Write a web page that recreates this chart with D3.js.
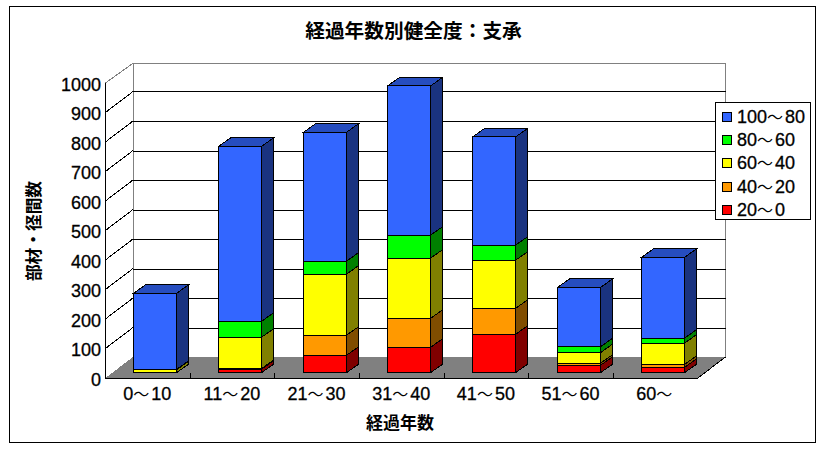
<!DOCTYPE html>
<html><head><meta charset="utf-8">
<script src="https://cdn.jsdelivr.net/npm/d3@7"></script>
<style>html,body{margin:0;padding:0;background:#fff}svg{display:block;shape-rendering:crispEdges}text{fill:#000}.n{stroke:#000;stroke-width:.3}</style>
</head><body><svg id="c" width="826" height="453"></svg>
<script>
const categories=["0～10","11～20","21～30","31～40","41～50","51～60","60～"];
const seriesNames=["20～0","40～20","60～40","80～60","100～80"];
const s20=[0,12,59,86,130,25,18];
const s40=[0,2,68,98,88,7,10];
const s60=[10,106,207,204,163,36,72];
const s80=[1,54,44,78,51,20,17];
const s100=[258,593,437,506,367,201,274];
const yTicks=[0,100,200,300,400,500,600,700,800,900,1000];
const colors=["#ff0000","#ff9900","#ffff00","#00ff00","#3366ff"];
const svg=d3.select("#c");
const FT='"Noto Sans CJK JP",sans-serif', FN='"Liberation Sans",Arial,sans-serif';
const x=d3.scaleBand().domain(categories).range([105,697.5]).paddingInner(0).paddingOuter(0);
const y=d3.scaleLinear().domain([0,1000]).range([378.3,83.3]);
const wallDx=28,wallDy=-21.3,barOffX=8,barOffY=-5.6,sideDx=12,sideDy=-8.5,barW=43;
const pts=a=>a.map(p=>p.join(",")).join(" ");
// number text with a wide CJK wave dash
function label(sel,str){
  str.split(/(～)/).forEach(part=>{
    if(!part) return;
    const t=sel.append("tspan").text(part);
    if(part==="～") t.attr("font-family",FT).attr("font-size",16).attr("letter-spacing",2).attr("stroke-width",0);
  });
}
svg.append("rect").attr("x",9.5).attr("y",6.5).attr("width",806).attr("height",436).attr("fill","#fff").attr("stroke","#000");
// floor
const x0=x.range()[0],x1=x.range()[1];
svg.append("polygon").attr("points",pts([[x0,y(0)],[x0+wallDx,y(0)+wallDy],[x1+wallDx,y(0)+wallDy],[x1,y(0)]])).attr("fill","#808080");
// walls
svg.append("path").attr("d",`M${x0+wallDx+.5},${y(0)+wallDy}V${y(1000)-20}H${x1+wallDx}V${y(0)+wallDy}`).attr("fill","none").attr("stroke","#808080");
yTicks.forEach(t=>{
  const c=t===1000?"#808080":"#000";
  const by=t===1000?y(t)-20:y(t)+wallDy;
  if(t>0) svg.append("line").attr("x1",x0+wallDx).attr("x2",x1+wallDx).attr("y1",Math.round(by)+.5).attr("y2",Math.round(by)+.5).attr("stroke",c);
  if(t>0) svg.append("line").attr("x1",x0).attr("x2",x0+wallDx).attr("y1",y(t)).attr("y2",by).attr("stroke",c);
  svg.append("text").attr("class","n").attr("x",x0-4).attr("y",y(t)+7.5).attr("text-anchor","end").attr("font-family",FN).attr("font-size",18).text(t);
});
// bars
const stacks=d3.stack().keys([0,1,2,3,4]).value((d,k)=>d[k])(categories.map((c,i)=>[s20[i],s40[i],s60[i],s80[i],s100[i]]));
const shade=(c,k)=>{const r=d3.rgb(c);return d3.rgb(r.r*k,r.g*k,r.b*k).formatHex()};
categories.forEach((c,i)=>{
  const bx=Math.floor(x(c)+x.bandwidth()/2+barOffX-barW/2)+.5;
  const g=svg.append("g");
  stacks.forEach((st,k)=>{
    const [a,b]=st[i];
    if(b-a<=0) return;
    const yb=y(a)+barOffY,yt=y(b)+barOffY;
    g.append("polygon").attr("points",pts([[bx+barW,yb],[bx+barW+sideDx,yb+sideDy],[bx+barW+sideDx,yt+sideDy],[bx+barW,yt]])).attr("fill",k===4?"#1a3380":shade(colors[k],.5)).attr("stroke","#000");
    g.append("rect").attr("x",bx).attr("y",yt).attr("width",barW).attr("height",yb-yt).attr("fill",colors[k]).attr("stroke","#000");
    if(k===4) g.append("polygon").attr("points",pts([[bx,yt],[bx+sideDx,yt+sideDy],[bx+barW+sideDx,yt+sideDy],[bx+barW,yt]])).attr("fill","#264dbf").attr("stroke","#000");
  });
});
// axes
svg.append("line").attr("x1",x0+.5).attr("x2",x0+.5).attr("y1",y(1000)).attr("y2",y(0)).attr("stroke","#000");
svg.append("line").attr("x1",x0).attr("x2",x1).attr("y1",378.5).attr("y2",378.5).attr("stroke","#000");
svg.append("line").attr("x1",x1).attr("x2",x1+wallDx).attr("y1",y(0)).attr("y2",y(0)+wallDy).attr("stroke","#000");
categories.forEach((c,i)=>{
  const tx=Math.round(x(c)+x.bandwidth())+.5;
  if(i<categories.length-1) svg.append("line").attr("x1",tx).attr("x2",tx).attr("y1",373).attr("y2",378).attr("stroke","#000");
  const t=svg.append("text").attr("class","n").attr("x",x(c)+x.bandwidth()/2).attr("y",400).attr("text-anchor","middle").attr("font-family",FN).attr("font-size",18);
  label(t,c);
});
// titles
svg.append("text").attr("x",413.5).attr("y",38).attr("text-anchor","middle").attr("font-family",FT).attr("font-weight",700).attr("font-size",19.7).text("経過年数別健全度：支承");
svg.append("text").attr("x",400).attr("y",429).attr("text-anchor","middle").attr("font-family",FT).attr("font-weight",700).attr("font-size",17).text("経過年数");
svg.append("text").attr("transform","translate(40,231) rotate(-90)").attr("text-anchor","middle").attr("font-family",FT).attr("font-weight",700).attr("font-size",16.7).text("部材・径間数");
// legend
svg.append("rect").attr("x",715.5).attr("y",102.5).attr("width",95).attr("height",117).attr("fill","#fff").attr("stroke","#000");
[4,3,2,1,0].forEach((k,i)=>{
  const ly=116+i*23.4;
  svg.append("rect").attr("x",722.5).attr("y",Math.round(ly-4.5)+.5).attr("width",9).attr("height",9).attr("fill",colors[k]).attr("stroke","#000");
  const t=svg.append("text").attr("class","n").attr("x",737).attr("y",ly+6.5).attr("font-family",FN).attr("font-size",18);
  label(t,seriesNames[k]);
});
</script></body></html>
